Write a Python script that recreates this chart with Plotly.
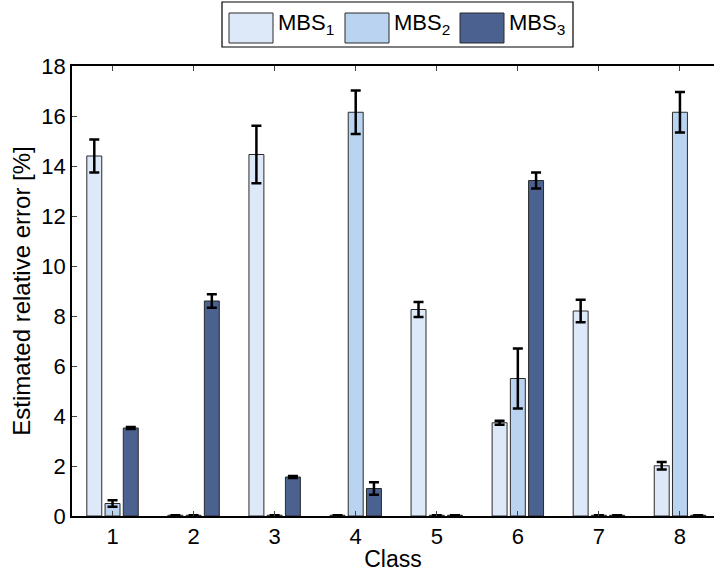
import plotly.graph_objects as go

classes = [1, 2, 3, 4, 5, 6, 7, 8]
tick_labels = ["1", "2", "3", "4", "5", "6", "7", "8"]

mbs1 = [14.40, 0.03, 14.46, 0.03, 8.26, 3.73, 8.20, 2.01]
mbs1_err = [0.66, 0.0, 1.15, 0.0, 0.30, 0.08, 0.45, 0.15]
mbs2 = [0.50, 0.03, 0.03, 16.15, 0.03, 5.50, 0.03, 16.15]
mbs2_err = [0.13, 0.0, 0.0, 0.87, 0.0, 1.20, 0.0, 0.81]
mbs3 = [3.52, 8.60, 1.56, 1.10, 0.03, 13.42, 0.03, 0.03]
mbs3_err = [0.04, 0.27, 0.04, 0.25, 0.0, 0.32, 0.0, 0.0]

series_names = ["MBS<sub>1</sub>", "MBS<sub>2</sub>", "MBS<sub>3</sub>"]
colors = ["#dde9f9", "#b9d3f1", "#4b6190"]

FONT = "Liberation Sans, Arial, Helvetica, sans-serif"

fig = go.Figure()
for vals, errs, name, col in zip([mbs1, mbs2, mbs3], [mbs1_err, mbs2_err, mbs3_err], series_names, colors):
    fig.add_trace(go.Bar(
        x=classes, y=vals, name=name,
        marker=dict(color=col, line=dict(color="#2a2a2a", width=1)),
        error_y=dict(type="data", array=errs, color="black", thickness=2.5, width=5),
        showlegend=False,
    ))

# manual legend (box + swatches + labels)
fig.add_shape(type="rect", xref="paper", yref="paper",
              x0=(222 - 72) / 642, x1=(573 - 72) / 642, y0=(516 - 47) / 450, y1=(516 - 2) / 450,
              line=dict(color="black", width=1.2), fillcolor="white")
sw_left = [229, 345, 460]
for i, (name, col) in enumerate(zip(series_names, colors)):
    x0 = sw_left[i]
    fig.add_shape(type="rect", xref="paper", yref="paper",
                  x0=(x0 - 72) / 642, x1=(x0 + 44 - 72) / 642,
                  y0=(516 - 43) / 450, y1=(516 - 13) / 450,
                  line=dict(color="#2a2a2a", width=1), fillcolor=col)
    fig.add_annotation(xref="paper", yref="paper", x=(x0 + 47 - 72) / 642, y=(516 - 8) / 450,
                       xanchor="left", yanchor="top", text=name, showarrow=False,
                       font=dict(family=FONT, size=22, color="black"))

fig.update_layout(
    width=714, height=573,
    margin=dict(l=72, r=0, t=66, b=57),
    paper_bgcolor="white", plot_bgcolor="white",
    barmode="group", bargap=0.325, bargroupgap=0.18,
    font=dict(family=FONT, size=21, color="black"),
)
fig.update_xaxes(
    range=[0.5, 8.42], tickvals=classes, ticktext=tick_labels,
    ticks="inside", ticklen=5, tickcolor="#444", tickwidth=1,
    showline=True, linecolor="black", linewidth=1.5, mirror="ticks",
    showgrid=False, zeroline=False,
    title=dict(text="Class", font=dict(size=23), standoff=3),
    tickfont=dict(size=22),
)
fig.update_yaxes(
    range=[0, 18], tickvals=[0, 2, 4, 6, 8, 10, 12, 14, 16, 18],
    ticks="inside", ticklen=5, tickcolor="#444", tickwidth=1,
    showline=True, linecolor="black", linewidth=1.5, mirror=False,
    showgrid=False, zeroline=False,
    title=dict(text="Estimated relative error [%]", font=dict(size=24), standoff=4),
    tickfont=dict(size=22),
)

fig.write_html("out.html")
